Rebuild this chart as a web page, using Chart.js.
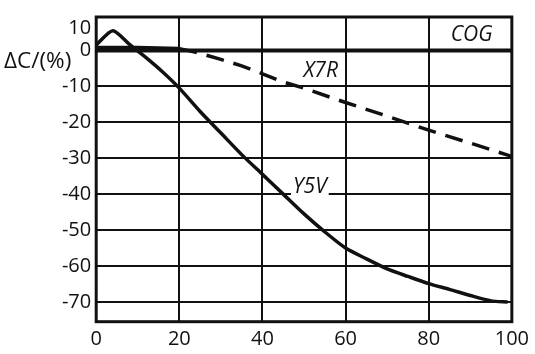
<!DOCTYPE html>
<html>
<head>
<meta charset="utf-8">
<script src="https://cdn.jsdelivr.net/npm/chart.js@4.4.1/dist/chart.umd.min.js"></script>
<style>
  html, body { margin: 0; padding: 0; background: #fff; }
  #wrap { width: 535px; height: 354px; }
</style>
</head>
<body>
<div id="wrap"><canvas id="chart"></canvas></div>
<script>
// --- data ---
const xTicks = [0, 20, 40, 60, 80, 100];
const yTicks = [10, 0, -10, -20, -30, -40, -50, -60, -70];

const cogX = [0, 100];
const cogY = [0, 0];

const x7rX = [0, 10, 20, 24, 30, 35, 40, 45, 50, 60, 70, 80, 90, 100];
const x7rY = [0.8, 0.8, 0.5, -0.5, -2.5, -4.3, -6.5, -8.8, -10.5, -14.5, -18.3, -22.2, -25.8, -29.5];

const y5vX = [0, 4, 8, 12, 16, 20, 25, 30, 35, 40, 45, 50, 55, 60, 65, 70, 75, 80, 85, 90, 95, 99];
const y5vY = [1.5, 5.5, 1.7, -2, -6, -10.5, -17, -23, -29, -34.5, -40, -45.5, -50.5, -55, -58, -60.8, -62.9, -64.9, -66.5, -68.2, -69.7, -70];

// curve names, placed in data units
const notes = [
  { text: 'COG', x: 90.3, y: 4.2, box: false },
  { text: 'X7R', x: 54, y: -5.7, box: false },
  { text: 'Y5V', x: 51.4, y: -38.1, box: true }
];

// the "10" label sits a bit below the frame top in the original
const yLabelAt = { 10: 6.1 };

const pts = (xs, ys) => xs.map((x, i) => ({ x: x, y: ys[i] }));
const ink = '#111';

const framePlugin = {
  id: 'frame',
  beforeDatasetsDraw(chart) {
    const a = chart.chartArea, c = chart.ctx;
    c.save();
    c.strokeStyle = ink;
    c.lineWidth = 3;
    c.strokeRect(a.left, a.top, a.right - a.left, a.bottom - a.top);
    c.restore();
  }
};

const notesPlugin = {
  id: 'notes',
  afterDatasetsDraw(chart) {
    const c = chart.ctx, xs = chart.scales.x, ys = chart.scales.y;
    c.save();
    c.fillStyle = ink;
    c.textBaseline = 'middle';
    // axis title, horizontal, left of the labels
    c.font = '22.5px "Open Sans"';
    c.textAlign = 'left';
    c.fillText('ΔC/(%)', 4, 62);

    c.font = 'italic 21px "Open Sans"';
    c.textAlign = 'center';
    notes.forEach(n => {
      const px = xs.getPixelForValue(n.x), py = ys.getPixelForValue(n.y);
      if (n.box) {
        const w = c.measureText(n.text).width;
        c.fillStyle = '#fff';
        c.fillRect(px - w / 2 - 2, py - 9, w + 4, 18);
        c.fillStyle = ink;
      }
      c.fillText(n.text, px, py);
    });
    c.restore();
  }
};

new Chart(document.getElementById('chart'), {
  type: 'line',
  data: {
    datasets: [
      {
        label: 'COG',
        data: pts(cogX, cogY),
        borderColor: ink,
        borderWidth: 4,
        pointRadius: 0,
        tension: 0
      },
      {
        label: 'X7R',
        data: pts(x7rX, x7rY),
        borderColor: ink,
        borderWidth: 3.5,
        pointRadius: 0,
        tension: 0,
        segment: {
          borderDash: ctx => ctx.p0.parsed.x >= 20 ? [18, 10] : undefined
        }
      },
      {
        label: 'Y5V',
        data: pts(y5vX, y5vY),
        borderColor: ink,
        borderWidth: 3.5,
        pointRadius: 0,
        tension: 0.25
      }
    ]
  },
  options: {
    responsive: true,
    maintainAspectRatio: false,
    animation: false,
    layout: { padding: { top: 13.5, right: 20.5, left: 0, bottom: 0 } },
    plugins: { legend: { display: false }, tooltip: { enabled: false } },
    scales: {
      x: {
        type: 'linear',
        min: 0,
        max: 100,
        afterBuildTicks: axis => { axis.ticks = xTicks.map(v => ({ value: v })); },
        afterFit: axis => { axis.height = 32.3; },
        grid: { color: ink, lineWidth: 2, drawTicks: false },
        border: { display: false },
        ticks: { color: ink, padding: 6, font: { family: 'Open Sans', size: 20 } }
      },
      y: {
        min: -75.5,
        max: 9.3,
        afterBuildTicks: axis => { axis.ticks = yTicks.map(v => ({ value: yLabelAt[v] ?? v })); },
        afterFit: axis => { axis.width = 96.2; },
        grid: {
          color: ctx => (ctx.tick && ctx.tick.value > 0) ? 'rgba(0,0,0,0)' : ink,
          lineWidth: 2,
          drawTicks: false
        },
        border: { display: false },
        ticks: {
          color: ink,
          padding: 5,
          font: { family: 'Open Sans', size: 20 },
          callback: (value, index) => yTicks[index]
        }
      }
    }
  },
  plugins: [framePlugin, notesPlugin]
});
</script>
</body>
</html>
